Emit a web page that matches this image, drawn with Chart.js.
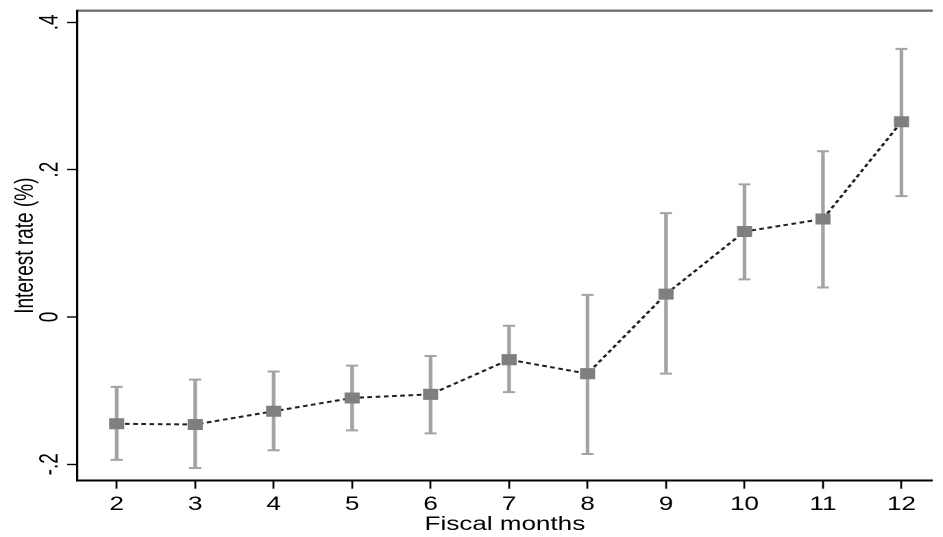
<!DOCTYPE html>
<html>
<head>
<meta charset="utf-8">
<script src="https://cdn.jsdelivr.net/npm/chart.js@4.4.1/dist/chart.umd.min.js"></script>
<style>
  html, body { margin: 0; padding: 0; background: #ffffff; overflow: hidden; }
  #wrap {
    position: absolute; left: 0; top: 0;
    width: 688px; height: 537px;
    transform: scaleX(1.3706); transform-origin: 0 0;
  }
</style>
</head>
<body>
<div id="wrap"><canvas id="chart"></canvas></div>
<script>
// ---- data ----
const months    = [2, 3, 4, 5, 6, 7, 8, 9, 10, 11, 12];
const estimates = [-0.145, -0.146, -0.128, -0.110, -0.105, -0.058, -0.077, 0.031, 0.116, 0.133, 0.265];
const ciLow     = [-0.194, -0.205, -0.181, -0.154, -0.158, -0.102, -0.186, -0.077, 0.051, 0.040, 0.164];
const ciHigh    = [-0.095, -0.085, -0.074, -0.066, -0.053, -0.012, 0.030, 0.141, 0.180, 0.225, 0.364];
const yTicks      = [-0.2, 0, 0.2, 0.4];
const yTickLabels = ['-.2', '0', '.2', '.4'];
const xTitle = 'Fiscal months';
const yTitle = 'Interest rate (%)';

const FONT = "'Liberation Sans', Arial, Helvetica, sans-serif";
const X_MIN = 1.5, X_MAX = 12.393, Y_MIN = -0.2223, Y_MAX = 0.4158;

const estPoints  = months.map((m, i) => ({ x: m, y: estimates[i] }));
const whiskers   = months.map((m, i) => ({ x: m, y: [ciLow[i], ciHigh[i]] }));
const lowCaps    = months.map((m, i) => ({ x: m, y: ciLow[i] }));
const highCaps   = months.map((m, i) => ({ x: m, y: ciHigh[i] }));

new Chart(document.getElementById('chart'), {
  type: 'scatter',
  data: {
    datasets: [
      {
        type: 'line',
        data: estPoints,
        order: 0,
        borderColor: '#1f1f1f',
        borderWidth: 2,
        borderDash: [3.4, 2.6],
        fill: false,
        tension: 0,
        showLine: true,
        pointStyle: 'rect',
        pointRadius: 7.8,
        pointBackgroundColor: '#7f7f7f',
        pointBorderColor: '#7f7f7f',
        pointBorderWidth: 0
      },
      {
        type: 'scatter',
        data: lowCaps,
        order: 1,
        showLine: false,
        pointStyle: 'line',
        pointRadius: 4.4,
        pointBorderWidth: 2,
        pointBorderColor: '#a3a3a3'
      },
      {
        type: 'scatter',
        data: highCaps,
        order: 1,
        showLine: false,
        pointStyle: 'line',
        pointRadius: 4.4,
        pointBorderWidth: 2,
        pointBorderColor: '#a3a3a3'
      },
      {
        type: 'bar',
        data: whiskers,
        order: 2,
        backgroundColor: '#a3a3a3',
        borderWidth: 0,
        barThickness: 2
      }
    ]
  },
  options: {
    responsive: true,
    maintainAspectRatio: false,
    animation: false,
    events: [],
    devicePixelRatio: 2,
    layout: { padding: { left: 0, right: 0, top: 9, bottom: 0 } },
    plugins: { legend: { display: false }, tooltip: { enabled: false } },
    scales: {
      x: {
        type: 'linear',
        position: 'bottom',
        offset: false,
        min: X_MIN,
        max: X_MAX,
        afterBuildTicks: s => { s.ticks = months.map(v => ({ value: v })); },
        afterFit: s => { s.height = 537 - 480.7; },
        ticks: {
          autoSkip: false,
          maxRotation: 0,
          minRotation: 0,
          padding: 6.5,
          color: '#000000',
          font: { family: FONT, size: 19, lineHeight: 1 },
          callback: v => String(v)
        },
        grid: {
          display: true,
          offset: false,
          drawOnChartArea: false,
          drawTicks: true,
          tickLength: 8,
          tickWidth: 1.4,
          tickColor: '#000000'
        },
        border: { display: true, color: '#000000', width: 2 },
        title: {
          display: true,
          text: xTitle,
          color: '#000000',
          font: { family: FONT, size: 19, lineHeight: 1 },
          padding: { top: 0, bottom: 2.5 }
        }
      },
      xTop: {
        type: 'linear',
        position: 'top',
        offset: false,
        min: X_MIN,
        max: X_MAX,
        afterFit: s => { s.height = 0; },
        ticks: { display: false },
        grid: { display: false, drawTicks: false, offset: false },
        border: { display: true, color: '#707070', width: 2.4 }
      },
      y: {
        type: 'linear',
        position: 'left',
        min: Y_MIN,
        max: Y_MAX,
        afterBuildTicks: s => { s.ticks = yTicks.map(v => ({ value: v })); },
        afterFit: s => { s.width = 56.5; },
        ticks: {
          autoSkip: false,
          minRotation: 90,
          maxRotation: 90,
          crossAlign: 'center',
          padding: 1.2,
          color: '#000000',
          font: { family: FONT, size: 19, lineHeight: 1 },
          callback: (v) => {
            const i = yTicks.findIndex(t => Math.abs(t - v) < 1e-9);
            return i >= 0 ? yTickLabels[i] : '';
          }
        },
        grid: {
          display: true,
          drawOnChartArea: false,
          drawTicks: true,
          tickLength: 7.5,
          tickWidth: 1.4,
          tickColor: '#000000'
        },
        border: { display: true, color: '#000000', width: 1.6 },
        title: {
          display: true,
          text: yTitle,
          color: '#000000',
          font: { family: FONT, size: 19, lineHeight: 1 },
          padding: { top: 9.5, bottom: 0 }
        }
      }
    }
  }
});
</script>
</body>
</html>
